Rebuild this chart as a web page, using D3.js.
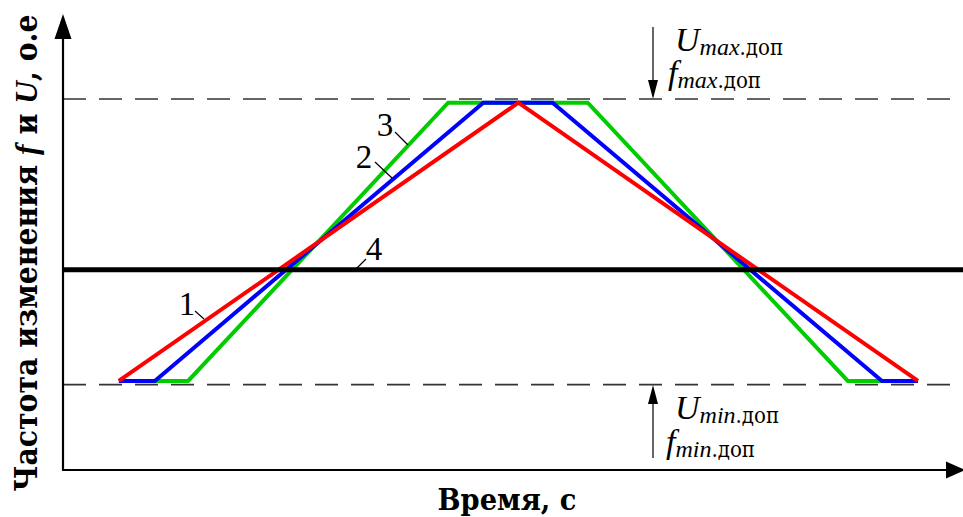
<!DOCTYPE html>
<html>
<head>
<meta charset="utf-8">
<script src="https://cdn.jsdelivr.net/npm/d3@7"></script>
<style>
  body { margin: 0; background: #fff; }
  svg { display: block; }
  text { font-family: "DejaVu Serif Condensed", "DejaVu Serif", "Liberation Serif", serif; font-stretch: condensed; }
  .lat { font-family: "Liberation Serif", "DejaVu Serif", serif; font-stretch: normal; }
</style>
</head>
<body>
<div id="chart"></div>
<script>
// time points (s) and levels (o.e.)
var redT = [0.62, 5.06, 9.5];
var redV = [0.24, 0.99, 0.24];
var blueT = [0.62, 1.02, 4.67, 5.44, 9.1, 9.5];
var blueV = [0.24, 0.24, 0.99, 0.99, 0.24, 0.24];
var greenT = [1.02, 1.39, 4.28, 5.83, 8.72, 9.1];
var greenV = [0.24, 0.24, 0.99, 0.99, 0.24, 0.24];
var nominalV = 0.54;
var limitMax = 1.0;
var limitMin = 0.23;

var width = 963, height = 517;

const svg = d3.select("#chart").append("svg")
    .attr("width", width)
    .attr("height", height);

// scales: time 0..10 s across the plot, level 0..1 o.e.
var x = d3.scaleLinear().domain([0, 10]).range([63, 963]);
var y = d3.scaleLinear().domain([0, 1]).range([470, 99]);

// dashed limit lines
svg.selectAll("line.limit")
    .data([limitMax, limitMin])
    .enter().append("line")
    .attr("class", "limit")
    .attr("x1", x(0)).attr("x2", x(10))
    .attr("y1", d => y(d)).attr("y2", d => y(d))
    .attr("stroke", "#333")
    .attr("stroke-width", 1.6)
    .attr("stroke-dasharray", "23 13");

// the three regulation curves, green under blue under red
var series = [
    { t: greenT, v: greenV, color: "#00cc00" },
    { t: blueT, v: blueV, color: "#0000ff" },
    { t: redT, v: redV, color: "#ff0000" }
];

var line = d3.line()
    .x(d => x(d[0]))
    .y(d => y(d[1]));

svg.append("g")
    .selectAll("path")
    .data(series)
    .enter().append("path")
    .attr("d", s => line(s.t.map((t, i) => [t, s.v[i]])))
    .attr("fill", "none")
    .attr("stroke", s => s.color)
    .attr("stroke-width", 4)
    .attr("stroke-linejoin", "miter");

// nominal level (curve 4)
svg.append("line")
    .attr("x1", x(0)).attr("x2", x(10))
    .attr("y1", y(nominalV)).attr("y2", y(nominalV))
    .attr("stroke", "#000")
    .attr("stroke-width", 5);

// axes with arrow heads
svg.append("line")
    .attr("x1", 63).attr("y1", 470)
    .attr("x2", 63).attr("y2", 36)
    .attr("stroke", "#000").attr("stroke-width", 2.2);
svg.append("path")
    .attr("d", "M63,14 L54.5,39 L71.5,39 Z")
    .attr("fill", "#000");

svg.append("line")
    .attr("x1", 62).attr("y1", 470)
    .attr("x2", 950).attr("y2", 470)
    .attr("stroke", "#000").attr("stroke-width", 2.2);
svg.append("path")
    .attr("d", "M965,470 L946,461.5 L946,478.5 Z")
    .attr("fill", "#000");

// axis titles
const xTitle = svg.append("text")
    .attr("x", 507).attr("y", 510)
    .attr("text-anchor", "middle")
    .style("font-size", "32px")
    .style("font-weight", "bold")
    .text("Время, с");
// squeeze to the width seen in the picture
xTitle.style("font-size", (32 * 139 / xTitle.node().getComputedTextLength()) + "px");

const yTitle = svg.append("text")
    .attr("transform", "translate(37,253) rotate(-90)")
    .attr("text-anchor", "middle")
    .style("font-size", "32px")
    .style("font-weight", "bold");
yTitle.append("tspan").text("Частота изменения ");
yTitle.append("tspan").attr("class", "lat").style("font-style", "italic").text("f");
yTitle.append("tspan").text(" и ");
yTitle.append("tspan").attr("class", "lat").style("font-style", "italic").text("U");
yTitle.append("tspan").text(", о.е");
yTitle.style("font-size", (32 * 477 / yTitle.node().getComputedTextLength()) + "px");

// curve numbers with small leader lines
var tags = [
    { n: "1", x: 187, y: 315, l: [195, 311, 204, 319] },
    { n: "2", x: 364, y: 168, l: [375, 162, 392, 178] },
    { n: "3", x: 385, y: 136, l: [395, 132, 408, 145] },
    { n: "4", x: 374, y: 260, l: [366, 259, 355, 270] }
];

svg.selectAll("text.tag")
    .data(tags)
    .enter().append("text")
    .attr("class", "tag lat")
    .attr("x", d => d.x).attr("y", d => d.y)
    .attr("text-anchor", "middle")
    .style("font-size", "33px")
    .text(d => d.n);

svg.selectAll("line.leader")
    .data(tags)
    .enter().append("line")
    .attr("class", "leader")
    .attr("x1", d => d.l[0]).attr("y1", d => d.l[1])
    .attr("x2", d => d.l[2]).attr("y2", d => d.l[3])
    .attr("stroke", "#000").attr("stroke-width", 1.2);

// limit annotations
function limitLabel(letter, sub, xPos, yPos, bigSize) {
    const t = svg.append("text")
        .attr("x", xPos).attr("y", yPos);
    t.append("tspan").attr("class", "lat").style("font-style", "italic").style("font-size", bigSize + "px").text(letter);
    t.append("tspan").attr("class", "lat").style("font-style", "italic").style("font-size", "24px").attr("dy", 4).text(sub);
    t.append("tspan").style("font-size", "22px").text(".доп");
}

limitLabel("U", "max", 675, 51, 34);
limitLabel("f", "max", 668, 84, 34);
limitLabel("U", "min", 675, 419, 34);
limitLabel("f", "min", 666, 453, 34);

// arrows pointing at the limits
svg.append("line")
    .attr("x1", 653).attr("y1", 27).attr("x2", 653).attr("y2", 84)
    .attr("stroke", "#000").attr("stroke-width", 1.2);
svg.append("path")
    .attr("d", "M653,99 L648,80 L658,80 Z")
    .attr("fill", "#000");

svg.append("line")
    .attr("x1", 653).attr("y1", 400).attr("x2", 653).attr("y2", 458)
    .attr("stroke", "#000").attr("stroke-width", 1.2);
svg.append("path")
    .attr("d", "M653,385 L648,404 L658,404 Z")
    .attr("fill", "#000");
</script>
</body>
</html>
